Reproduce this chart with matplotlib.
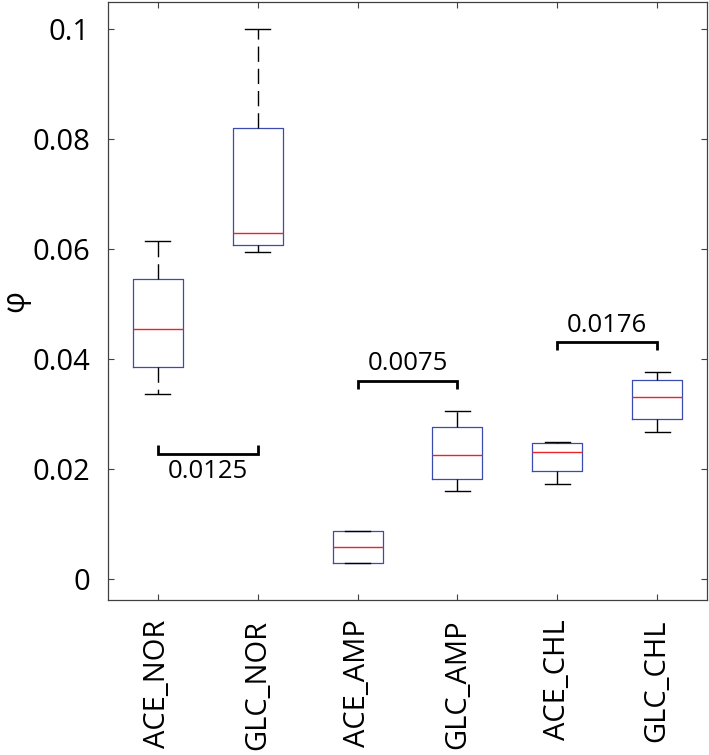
import numpy as np
import matplotlib.pyplot as plt

plt.rcParams['font.family'] = ['Open Sans', 'DejaVu Sans']

# --- data ---
groups = ['ACE_NOR', 'GLC_NOR', 'ACE_AMP', 'GLC_AMP', 'ACE_CHL', 'GLC_CHL']
whis_lo = [0.0336, 0.0595, 0.0029, 0.0161, 0.0173, 0.0267]
q1 = [0.0386, 0.0607, 0.0029, 0.0182, 0.0197, 0.0291]
med = [0.0455, 0.0629, 0.0058, 0.0225, 0.0232, 0.0332]
q3 = [0.0546, 0.0821, 0.0087, 0.0276, 0.0247, 0.0362]
whis_hi = [0.0616, 0.1000, 0.0087, 0.0306, 0.0250, 0.0376]

# significance brackets
pairs = [(1, 2), (3, 4), (5, 6)]
p_text = ['0.0125', '0.0075', '0.0176']
bar_y = [0.0228, 0.0361, 0.0432]
tip_dir = [1, -1, -1]        # +1 tips point up, -1 tips point down
text_y = [0.0196, 0.0392, 0.0461]

stats = []
for i, g in enumerate(groups):
    stats.append(dict(label=g, med=med[i], q1=q1[i], q3=q3[i],
                      whislo=whis_lo[i], whishi=whis_hi[i], fliers=[]))

fig = plt.figure(figsize=(7.09, 7.55), dpi=100)
ax = fig.add_axes([0.1523, 0.2053, 0.8449, 0.7921])

pos = np.arange(1, len(groups) + 1)
ax.bxp(stats, positions=pos, widths=0.5, capwidths=0.25, showfliers=False,
       boxprops=dict(color='#3a4bb0', lw=0.9),
       medianprops=dict(color='#e8262a', lw=1.0),
       whiskerprops=dict(color='black', lw=1.0, linestyle=(0, (11, 5))),
       capprops=dict(color='black', lw=1.0))

tip = 0.0016
for (a, b), t, y, d, ty in zip(pairs, p_text, bar_y, tip_dir, text_y):
    ax.plot([a, a, b, b], [y + d * tip, y, y, y + d * tip], color='black',
            lw=2.0, solid_joinstyle='miter', solid_capstyle='butt')
    ax.text((a + b) / 2, ty, t, ha='center', va='center', fontsize=18.5)

ax.set_xlim(0.5, 6.5)
ax.set_ylim(-0.0038, 0.105)
ax.set_xticks(pos)
ax.set_xticklabels(groups, rotation=90, fontsize=21)
yt = [0, 0.02, 0.04, 0.06, 0.08, 0.1]
ax.set_yticks(yt)
ax.set_yticklabels(['0', '0.02', '0.04', '0.06', '0.08', '0.1'], fontsize=21)

ax.tick_params(direction='in', length=4.5, width=0.8, color='#404040',
               top=True, right=True)
ax.tick_params(axis='y', pad=13)
ax.tick_params(axis='x', pad=14)
for s in ax.spines.values():
    s.set_color('#404040')
    s.set_linewidth(0.9)

ax.set_ylabel('φ', fontsize=22, rotation=90)
ax.yaxis.set_label_coords(-0.13, 0.5)

fig.savefig('out.png', dpi=100)
